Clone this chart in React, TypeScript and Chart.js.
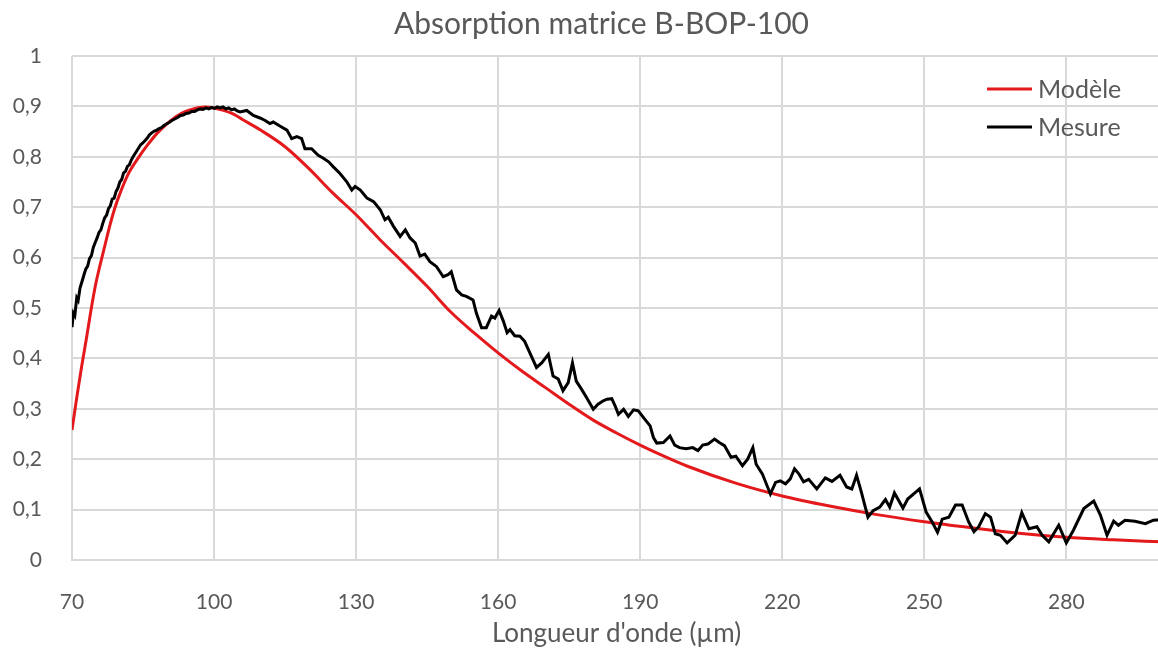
import React, { useEffect, useRef } from 'react';
import { Chart, registerables } from 'chart.js';

Chart.register(...registerables);

const chartTitle = 'Absorption matrice B-BOP-100';
const xAxisTitle = "Longueur d'onde (µm)";
const seriesNames = ['Modèle', 'Mesure'];
const seriesColors = ['#e3191c', '#000000'];
const xTickValues = [70, 100, 130, 160, 190, 220, 250, 280];
const yTickValues = [0, 0.1, 0.2, 0.3, 0.4, 0.5, 0.6, 0.7, 0.8, 0.9, 1];

const modelWavelength = [
  70, 71, 72, 73, 74, 75, 76, 77, 78, 79, 80, 82, 84, 86, 88, 90, 92, 94, 96, 98, 100,
  102, 104, 106, 110, 115, 120, 125, 130, 135, 140, 145, 150, 155, 160, 165, 170, 175,
  180, 185, 190, 195, 200, 210, 220, 230, 240, 250, 260, 270, 280, 290, 300,
];
const modelAbsorption = [
  0.258, 0.322, 0.382, 0.437, 0.495, 0.547, 0.588, 0.626, 0.664, 0.697, 0.724, 0.768,
  0.798, 0.824, 0.847, 0.865, 0.88, 0.89, 0.896, 0.899, 0.897, 0.892, 0.885, 0.874,
  0.852, 0.82, 0.777, 0.729, 0.685, 0.636, 0.59, 0.543, 0.492, 0.45, 0.411, 0.375,
  0.342, 0.309, 0.278, 0.252, 0.228, 0.206, 0.186, 0.153, 0.127, 0.107, 0.09, 0.076,
  0.064, 0.053, 0.045, 0.04, 0.036,
];

const measureWavelength = [
  70.0, 70.3, 70.6, 71.0, 71.3, 71.7, 72.1, 72.5, 72.9, 73.3, 73.7, 74.1, 74.5, 74.9,
  75.3, 75.7, 76.1, 76.5, 76.9, 77.3, 77.7, 78.1, 78.5, 78.9, 79.3, 79.7, 80.1, 80.5,
  80.9, 81.3, 81.7, 82.1, 82.5, 82.9, 83.3, 83.7, 84.1, 84.5, 84.9, 85.4, 85.9, 86.4,
  86.9, 87.4, 87.9, 88.4, 88.9, 89.4, 89.9, 90.5, 91.1, 91.7, 92.3, 92.9, 93.5, 94.1,
  94.7, 95.3, 95.9, 96.5, 97.1, 97.7, 98.3, 98.9, 99.5, 100.1, 100.7, 101.3, 101.9,
  102.5, 103.1, 103.7, 104.3, 104.9, 105.5,
  106.9, 108.3, 109.7, 110.8, 111.8, 112.5, 113.9, 115.4, 116.4, 117.5, 118.5, 119.2,
  120.6, 122.0, 123.1, 124.2, 125.2, 126.6, 128.0, 129.1, 129.8, 130.9, 132.3, 133.7,
  135.1, 136.1, 136.8, 137.9, 139.3, 140.4, 141.4, 142.5, 143.5, 144.5, 145.6, 147.0,
  148.4, 149.4, 150.1, 151.2, 152.3, 153.3, 154.7, 155.4, 156.5, 157.5, 158.6, 159.3,
  160.2, 161.1, 161.9, 162.5, 163.5, 164.6, 165.6, 166.7, 168.1, 169.2, 170.6, 171.6,
  172.7, 173.7, 174.8, 175.7, 176.5, 177.6, 178.7, 180.1, 181.1, 182.2, 183.0, 184.0,
  184.7, 185.4, 186.5, 187.5, 188.6, 189.6, 191.0, 192.1, 192.8, 193.5, 194.9, 196.3,
  197.3, 198.3, 199.7, 201.1, 202.2, 203.2, 204.3, 205.7, 206.7, 207.8, 209.2, 210.2,
  211.6, 212.7, 213.8, 214.5, 215.8, 217.5, 218.6, 219.6, 220.7, 221.7, 222.6, 223.5,
  224.5, 225.6, 227.3, 229.1, 230.5, 232.2, 233.6, 234.7, 235.7, 236.7, 238.1, 239.2,
  240.6, 241.8, 242.7, 243.7, 245.5, 246.5, 249.0, 250.4, 251.7, 252.8, 253.8, 255.2,
  256.6, 258.0, 259.4, 260.5, 261.5, 262.9, 264.0, 265.0, 266.1, 267.5, 269.2, 270.6,
  272.1, 273.8, 274.9, 276.3, 278.4, 280.0, 281.5, 283.7, 285.8, 287.2, 288.6, 290.0,
  291.0, 292.4, 294.5, 296.7, 298.4, 300.0,
];
const measureAbsorption = [
  0.462, 0.49, 0.485, 0.52, 0.515, 0.54, 0.552, 0.565, 0.577, 0.583, 0.598, 0.604, 0.62,
  0.63, 0.639, 0.65, 0.655, 0.668, 0.679, 0.684, 0.697, 0.703, 0.716, 0.718, 0.731,
  0.738, 0.75, 0.755, 0.768, 0.771, 0.781, 0.784, 0.793, 0.8, 0.806, 0.812, 0.818, 0.824,
  0.827, 0.832, 0.837, 0.844, 0.848, 0.851, 0.853, 0.856, 0.858, 0.862, 0.865, 0.868,
  0.872, 0.875, 0.878, 0.882, 0.883, 0.886, 0.887, 0.89, 0.89, 0.893, 0.895, 0.894,
  0.897, 0.895, 0.898, 0.896, 0.899, 0.897, 0.899, 0.895, 0.897, 0.893, 0.895, 0.891,
  0.889,
  0.892, 0.882, 0.877, 0.872, 0.866, 0.869, 0.861, 0.853, 0.836, 0.84, 0.836, 0.816,
  0.816, 0.803, 0.797, 0.79, 0.78, 0.767, 0.751, 0.734, 0.741, 0.734, 0.718, 0.711,
  0.695, 0.675, 0.68, 0.662, 0.642, 0.655, 0.639, 0.629, 0.603, 0.607, 0.592, 0.582,
  0.562, 0.566, 0.572, 0.536, 0.526, 0.523, 0.516, 0.49, 0.461, 0.461, 0.484, 0.48,
  0.495, 0.474, 0.451, 0.457, 0.445, 0.444, 0.434, 0.411, 0.382, 0.391, 0.408, 0.365,
  0.359, 0.336, 0.352, 0.391, 0.355, 0.339, 0.322, 0.299, 0.309, 0.316, 0.319, 0.32,
  0.306, 0.289, 0.299, 0.285, 0.298, 0.296, 0.279, 0.266, 0.243, 0.232, 0.233, 0.246,
  0.228, 0.223, 0.221, 0.223, 0.217, 0.228, 0.23, 0.24, 0.233, 0.227, 0.204, 0.206,
  0.187, 0.2, 0.223, 0.19, 0.171, 0.131, 0.154, 0.157, 0.151, 0.161, 0.181, 0.171,
  0.155, 0.16, 0.141, 0.163, 0.156, 0.168, 0.145, 0.141, 0.168, 0.135, 0.085, 0.098,
  0.105, 0.12, 0.105, 0.133, 0.103, 0.121, 0.141, 0.095, 0.075, 0.055, 0.081, 0.085,
  0.109, 0.109, 0.075, 0.056, 0.066, 0.092, 0.085, 0.052, 0.049, 0.034, 0.049, 0.094,
  0.062, 0.066, 0.049, 0.036, 0.069, 0.034, 0.059, 0.102, 0.117, 0.089, 0.049, 0.077,
  0.069, 0.079, 0.077, 0.072, 0.079, 0.08,
];

const fontFamily = 'Lato, "Noto Sans", sans-serif';
const textColor = '#595959';
const gridColor = '#d9d9d9';

const insideLegend = {
  id: 'insideLegend',
  afterDraw(chart: any) {
    const { ctx, chartArea } = chart;
    ctx.save();
    ctx.font = `25px ${fontFamily}`;
    ctx.textBaseline = 'middle';
    ctx.textAlign = 'left';
    chart.data.datasets.forEach((ds: any, i: number) => {
      const y = chartArea.top + 33 + i * 38;
      const x0 = chartArea.right - 174;
      ctx.strokeStyle = ds.borderColor;
      ctx.lineWidth = 3;
      ctx.beginPath();
      ctx.moveTo(x0, y);
      ctx.lineTo(x0 + 45, y);
      ctx.stroke();
      ctx.fillStyle = textColor;
      ctx.fillText(ds.label, x0 + 51, y + 1);
    });
    ctx.restore();
  },
};

export default function App() {
  const canvasRef = useRef<HTMLCanvasElement | null>(null);

  useEffect(() => {
    if (!canvasRef.current) return;
    const chart = new Chart(canvasRef.current, {
      type: 'line',
      data: {
        datasets: [
          {
            label: seriesNames[0],
            data: modelWavelength.map((x, i) => ({ x, y: modelAbsorption[i] })),
            borderColor: seriesColors[0],
            backgroundColor: seriesColors[0],
            borderWidth: 3,
            pointRadius: 0,
            tension: 0.4,
            cubicInterpolationMode: 'monotone',
            fill: false,
            order: 1,
          },
          {
            label: seriesNames[1],
            data: measureWavelength.map((x, i) => ({ x, y: measureAbsorption[i] })),
            borderColor: seriesColors[1],
            backgroundColor: seriesColors[1],
            borderWidth: 3,
            pointRadius: 0,
            tension: 0,
            fill: false,
            order: 0,
          },
        ],
      },
      options: {
        responsive: false,
        animation: false,
        layout: { padding: { left: 0, right: 0, top: 0, bottom: 0 } },
        plugins: {
          legend: { display: false },
          tooltip: { enabled: false },
          title: {
            display: true,
            text: chartTitle,
            color: textColor,
            font: { family: fontFamily, size: 30, weight: 'normal' },
            padding: { top: 6, bottom: 14 },
          },
        },
        scales: {
          x: {
            type: 'linear',
            min: 70,
            max: 300,
            afterBuildTicks: (scale: any) => {
              scale.ticks = xTickValues.map((v) => ({ value: v }));
            },
            afterFit: (scale: any) => {
              scale.height = 90;
            },
            grid: { color: gridColor, lineWidth: 2, drawTicks: false },
            border: { display: true, color: gridColor, width: 2 },
            ticks: {
              color: textColor,
              padding: 30,
              maxRotation: 0,
              autoSkip: false,
              font: { family: fontFamily, size: 21 },
              callback: (v: any) => String(v),
            },
            title: {
              display: true,
              text: xAxisTitle,
              color: textColor,
              font: { family: fontFamily, size: 26 },
              padding: { top: 0, bottom: 1 },
            },
          },
          y: {
            type: 'linear',
            position: 'left',
            min: 0,
            max: 1,
            afterBuildTicks: (scale: any) => {
              scale.ticks = yTickValues.map((v) => ({ value: v }));
            },
            afterFit: (scale: any) => {
              scale.width = 72;
            },
            grid: { color: gridColor, lineWidth: 2, drawTicks: false },
            border: { display: false },
            ticks: {
              color: textColor,
              padding: 30,
              autoSkip: false,
              font: { family: fontFamily, size: 21 },
              callback: (v: any) =>
                v === 0 ? '0' : v === 1 ? '1' : Number(v).toFixed(1).replace('.', ','),
            },
          },
          yRightSpace: {
            type: 'linear',
            position: 'right',
            min: 0,
            max: 1,
            afterFit: (scale: any) => {
              scale.width = 42;
            },
            grid: { display: false, drawTicks: false },
            border: { display: false },
            ticks: { display: false },
          },
        },
      },
      plugins: [insideLegend],
    } as any);
    return () => chart.destroy();
  }, []);

  return (
    <div
      style={{
        position: 'fixed',
        left: 0,
        top: 0,
        width: 1158,
        height: 650,
        overflow: 'hidden',
        background: '#ffffff',
      }}
    >
      <canvas ref={canvasRef} width={1203} height={650} style={{ display: 'block' }} />
    </div>
  );
}
